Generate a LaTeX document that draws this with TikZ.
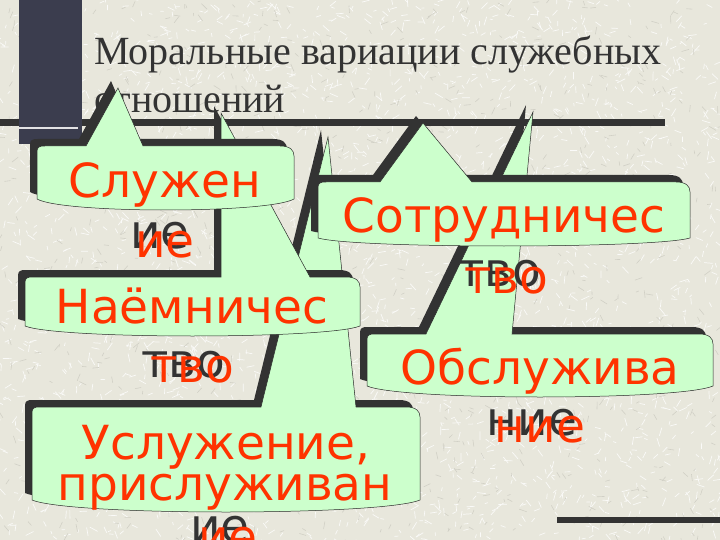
\documentclass[tikz,border=0pt]{standalone}
\usepackage{fontspec}
\setmainfont{Liberation Serif}
\newfontfamily\dejavu{DejaVu Sans}
\definecolor{bgc}{HTML}{E8E7DC}
\definecolor{greenc}{HTML}{CCFFCC}
\definecolor{redc}{HTML}{FF3300}
\definecolor{shad}{HTML}{333333}
\definecolor{barc}{HTML}{3B3D4E}
% callout outline: x0 y0 x1 yb sag baseleft tipx tipy baseright
\newcommand{\calloutpath}[9]{(#1,#4) -- (#1,#2+6) .. controls (#1,#2+1) and (#1+2,#2) .. (#1+8,#2) -- (#6,#2) -- (#7,#8) -- (#9,#2) -- (#3-14,#2) .. controls (#3-4,#2) and (#3,#2+4) .. (#3,#2+10) -- (#3,#4) .. controls ({#3-0.1*(#3-#1)},{#4+4*#5/3}) and ({#1+0.1*(#3-#1)},{#4+4*#5/3}) .. (#1,#4) -- cycle}
\newcommand{\calloutshadow}[9]{\fill[shad, shift={(-7,-7)}] \calloutpath{#1}{#2}{#3}{#4}{#5}{#6}{#7}{#8}{#9};}
\newcommand{\calloutbody}[9]{\filldraw[greenc, draw=shad!80!black, line width=0.5pt] \calloutpath{#1}{#2}{#3}{#4}{#5}{#6}{#7}{#8}{#9};}
\begin{document}
\begin{tikzpicture}[x=1pt,y=-1pt,
  boxtxt/.style={font=\dejavu\fontsize{47}{47}\selectfont, text=redc, anchor=base, inner sep=0pt},
  shtxt/.style={font=\dejavu\fontsize{47}{47}\selectfont, text=shad, anchor=base, inner sep=0pt},
  titletxt/.style={font=\fontsize{40}{40}\selectfont, text=shad, anchor=base west, inner sep=0pt},
  texl/.style={line width=0.7pt, white!80!bgc},
  texd/.style={line width=0.6pt, bgc!90!black},
  rule/.style={line width=7pt, shad}]
\useasboundingbox (0,0) rectangle (720,540);
\fill[bgc] (0,0) rectangle (720,540);
% background texture
\begin{scope}
\clip (0,0) rectangle (720,540);
\pgfmathsetseed{7}
\foreach \i in {1,...,3000}{
  \pgfmathsetmacro{\xa}{rnd*720}
  \pgfmathsetmacro{\ya}{rnd*540}
  \pgfmathsetmacro{\an}{rnd*360}
  \pgfmathsetmacro{\le}{3+rnd*6}
  \draw[texl] (\xa,\ya) -- ++(\an:\le pt);
}
\foreach \i in {1,...,900}{
  \pgfmathsetmacro{\xa}{rnd*720}
  \pgfmathsetmacro{\ya}{rnd*540}
  \pgfmathsetmacro{\an}{rnd*360}
  \pgfmathsetmacro{\le}{3+rnd*5}
  \draw[texd] (\xa,\ya) -- ++(\an:\le pt);
}
\end{scope}
% rules
\coordinate (r1a) at (0,122.5);
\coordinate (r1b) at (665,122.5);
\coordinate (r2a) at (557,519.5);
\coordinate (r2b) at (720,519.5);
\draw[rule] (r1a) -- (r1b);
\draw[rule, line width=6pt] (r2a) -- (r2b);
% title
\node[titletxt] (title1) at (94,65) {Моральные вариации служебных};
\node[titletxt] (title2) at (94,113) {отношений};
% dark bar
\fill[barc] (19,0) rectangle (82,144);
\coordinate (wl1) at (19,128);
\coordinate (wl2) at (78,128);
\draw[white!85!barc, line width=1.2pt] (wl1) -- (wl2);
% callout: Услужение
\calloutshadow{32}{407}{420}{500}{12}{261}{328}{137}{356}
\node[shtxt] (u3s) at (220,542) {ие};
\calloutbody{32}{407}{420}{500}{12}{261}{328}{137}{356}
\node[boxtxt] (u1) at (226,459) {Услужение,};
\node[boxtxt] (u2) at (225,500) {прислуживан};
\node[boxtxt] (u3) at (228,553) {ие};
% callout: Обслуживание
\calloutshadow{367}{334}{713}{386}{11}{426}{533}{112}{512}
\node[shtxt] (o2s) at (532,435) {ние};
\calloutbody{367}{334}{713}{386}{11}{426}{533}{112}{512}
\node[boxtxt] (o1) at (540,384) {Обслужива};
\node[boxtxt] (o2) at (540,442) {ние};
% callout: Наёмничество
\calloutshadow{25}{277}{360}{326}{10}{221}{221}{113}{310}
\node[shtxt] (n2s) at (183,377) {тво};
\calloutbody{25}{277}{360}{326}{10}{221}{221}{113}{310}
\node[boxtxt] (n1) at (192,323) {Наёмничес};
\node[boxtxt] (n2) at (192,382) {тво};
% callout: Сотрудничество
\calloutshadow{318}{182}{690}{238}{8}{380}{423}{123}{472}
\node[shtxt] (c2s) at (499,286) {тво};
\calloutbody{318}{182}{690}{238}{8}{380}{423}{123}{472}
\node[boxtxt] (c1) at (504,233) {Сотрудничес};
\node[boxtxt] (c2) at (506,293) {тво};
% callout: Служение
\calloutshadow{37}{146}{294}{199}{11}{86}{118}{88}{143}
\node[shtxt] (s2s) at (160,248) {ие};
\calloutbody{37}{146}{294}{199}{11}{86}{118}{88}{143}
\node[boxtxt] (s1) at (165,197) {Служен};
\node[boxtxt] (s2) at (165,257) {ие};
\end{tikzpicture}
\end{document}
